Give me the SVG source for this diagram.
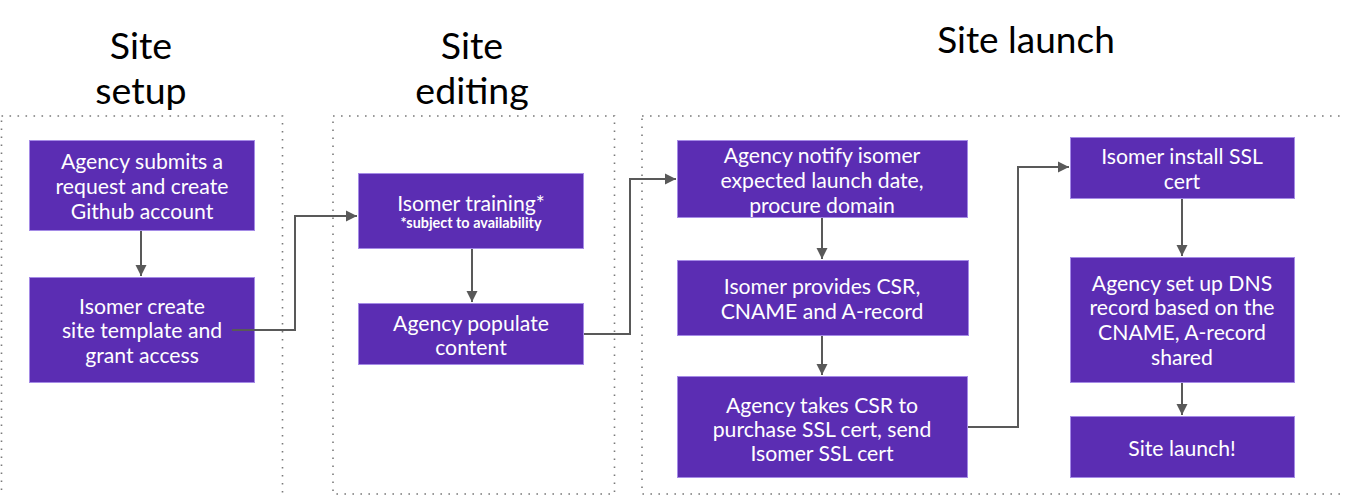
<svg xmlns="http://www.w3.org/2000/svg" width="1345" height="495" viewBox="0 0 1345 495">
<defs>
<marker id="arr" markerWidth="12" markerHeight="12" refX="11" refY="6" orient="auto" markerUnits="userSpaceOnUse">
<path d="M0,0.5 L11,6 L0,11.5 Z" fill="#595959"/>
</marker>
</defs>
<style>
.zone{fill:none;stroke:#7a7a7a;stroke-width:1.6;stroke-dasharray:1.6 6.4}
.title{font-family:Lato,"Liberation Sans",sans-serif;font-size:37.5px;fill:#000;text-anchor:middle}
.box{fill:#5b2db3;stroke:#a58be6;stroke-width:1}
.t{font-family:Lato,"Liberation Sans",sans-serif;font-size:21.2px;fill:#fff;text-anchor:middle}
.s{font-family:Lato,"Liberation Sans",sans-serif;font-size:14.4px;font-weight:bold;fill:#fff;text-anchor:middle}
.c{fill:none;stroke:#595959;stroke-width:2}
</style>
<g id="zones">
<rect class="zone" x="1.5" y="116" width="281" height="390"/>
<rect class="zone" x="333" y="116" width="281.5" height="378"/>
<rect class="zone" x="642" y="116" width="720" height="378"/>
</g>
<g id="titles">
<text class="title" x="141" y="59">Site</text>
<text class="title" x="141" y="104">setup</text>
<text class="title" x="472" y="59">Site</text>
<text class="title" x="472" y="104">editing</text>
<text class="title" x="1026" y="53" style="font-size:37px">Site launch</text>
</g>
<g id="n1">
<rect class="box" x="29.5" y="140.5" width="225" height="90"/>
<text class="t" x="142" y="169">Agency submits a</text>
<text class="t" x="142" y="194">request and create</text>
<text class="t" x="142" y="219">Github account</text>
</g>
<g id="n2">
<rect class="box" x="29.5" y="277.5" width="225" height="105"/>
<text class="t" x="142" y="314">Isomer create</text>
<text class="t" x="142" y="338">site template and</text>
<text class="t" x="142" y="363">grant access</text>
</g>
<g id="n3">
<rect class="box" x="358.5" y="173.5" width="225" height="75"/>
<text class="t" x="471" y="211">Isomer training*</text>
<text class="s" x="471" y="228">*subject to availability</text>
</g>
<g id="n4">
<rect class="box" x="358.5" y="303.5" width="225" height="61"/>
<text class="t" x="471" y="331">Agency populate</text>
<text class="t" x="471" y="355">content</text>
</g>
<g id="n5">
<rect class="box" x="677.5" y="140.5" width="290" height="77"/>
<text class="t" x="822" y="163">Agency notify isomer</text>
<text class="t" x="822" y="188">expected launch date,</text>
<text class="t" x="822" y="213">procure domain</text>
</g>
<g id="n6">
<rect class="box" x="677.5" y="260.5" width="291" height="75"/>
<text class="t" x="822" y="294">Isomer provides CSR,</text>
<text class="t" x="822" y="319">CNAME and A-record</text>
</g>
<g id="n7">
<rect class="box" x="677.5" y="376.5" width="290" height="101"/>
<text class="t" x="822" y="413">Agency takes CSR to</text>
<text class="t" x="822" y="437">purchase SSL cert, send</text>
<text class="t" x="822" y="461">Isomer SSL cert</text>
</g>
<g id="n8">
<rect class="box" x="1070.5" y="137.5" width="224" height="61"/>
<text class="t" x="1182" y="164">Isomer install SSL</text>
<text class="t" x="1182" y="189">cert</text>
</g>
<g id="n9">
<rect class="box" x="1070.5" y="257.5" width="224" height="125"/>
<text class="t" x="1182" y="291">Agency set up DNS</text>
<text class="t" x="1182" y="315">record based on the</text>
<text class="t" x="1182" y="340">CNAME, A-record</text>
<text class="t" x="1182" y="365">shared</text>
</g>
<g id="n10">
<rect class="box" x="1070.5" y="416.5" width="224" height="61"/>
<text class="t" x="1182" y="456">Site launch!</text>
</g>
<g id="connectors">
<path class="c" d="M141,231 V276" marker-end="url(#arr)"/>
<path class="c" d="M232,330 H295 V216 H357" marker-end="url(#arr)"/>
<path class="c" d="M472,249 V302" marker-end="url(#arr)"/>
<path class="c" d="M584,334 H630 V179 H676" marker-end="url(#arr)"/>
<path class="c" d="M822,218 V259" marker-end="url(#arr)"/>
<path class="c" d="M822,336 V375" marker-end="url(#arr)"/>
<path class="c" d="M968,427 H1018 V167 H1069" marker-end="url(#arr)"/>
<path class="c" d="M1182,199 V256" marker-end="url(#arr)"/>
<path class="c" d="M1182,383 V415" marker-end="url(#arr)"/>
</g>
</svg>
